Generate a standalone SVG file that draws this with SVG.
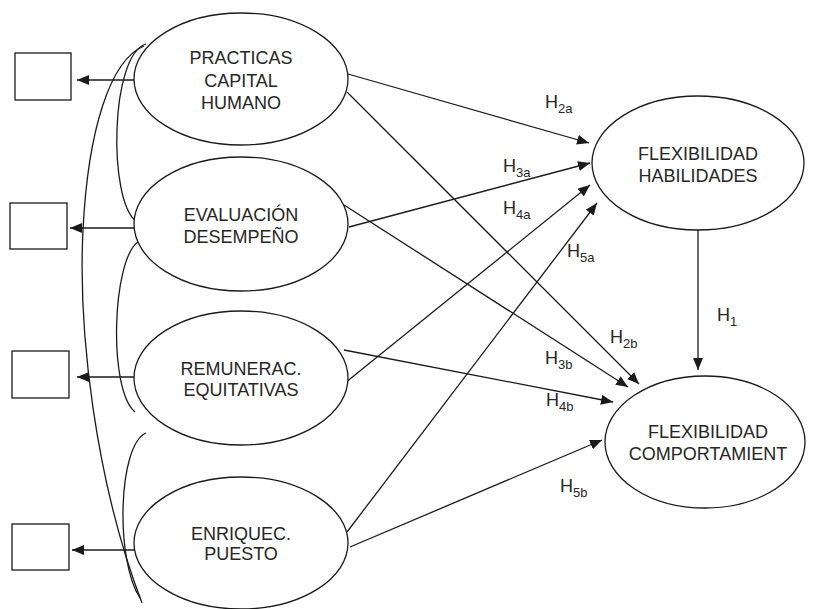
<svg xmlns="http://www.w3.org/2000/svg" width="816" height="609" viewBox="0 0 816 609">
<defs>
<marker id="ah" markerUnits="userSpaceOnUse" markerWidth="12" markerHeight="10" refX="12" refY="5" orient="auto">
<path d="M0,0 L12,5 L0,10 z" fill="#1a1a1a"/>
</marker>
<style>
.n{fill:#fff;stroke:#1a1a1a;stroke-width:1.3}
.t{font-family:"Liberation Sans",Arial,sans-serif;font-size:18px;fill:#262626;text-anchor:middle}
.c{fill:none;stroke:#1a1a1a;stroke-width:1.3}
.a{fill:none;stroke:#1a1a1a;stroke-width:1.3;marker-end:url(#ah)}
.h{font-family:"Liberation Sans",Arial,sans-serif;font-size:18px;fill:#262626}
.s{font-size:13px}
</style>
</defs>
<rect width="816" height="609" fill="#fff"/>
<g id="box1"><rect class="n" x="15" y="53" width="56" height="47"/></g>
<g id="box2"><rect class="n" x="10" y="203" width="57" height="46"/></g>
<g id="box3"><rect class="n" x="12" y="351" width="57" height="47"/></g>
<g id="box4"><rect class="n" x="12" y="524" width="57" height="46"/></g>
<g id="connectors">
<path class="c" d="M146,44 C110,55 108,200 136,221"/>
<path class="c" d="M144,46 C110,60 88,130 83,230 C78,330 95,480 142,603"/>
<path class="c" d="M138,242 C112,260 108,390 135,412"/>
<path class="c" d="M146,433 C118,445 115,560 140,598"/>
<path class="a" d="M135,80 L77,80"/>
<path class="a" d="M135,228 L70,228"/>
<path class="a" d="M135,377 L77,377"/>
<path class="a" d="M135,550 L72,550"/>
<path class="a" d="M348,74 L589,143"/>
<path class="a" d="M347,92 L639,384"/>
<path class="a" d="M349,227 L590,163"/>
<path class="a" d="M344,205 L628,387"/>
<path class="a" d="M345,383 L590,185"/>
<path class="a" d="M344,350 L613,402"/>
<path class="a" d="M347,532 L597,203"/>
<path class="a" d="M350,547 L602,440"/>
<path class="a" d="M698,230 L698,370"/>
</g>
<g id="practicas"><ellipse class="n" cx="241" cy="79" rx="107" ry="66"/>
<text class="t" x="241" y="63.5">PRACTICAS</text><text class="t" x="241" y="86.5">CAPITAL</text><text class="t" x="241" y="108.5">HUMANO</text></g>
<g id="evaluacion"><ellipse class="n" cx="241" cy="224" rx="107" ry="67"/>
<text class="t" x="241" y="220.5">EVALUACIÓN</text><text class="t" x="241" y="242.5">DESEMPEÑO</text></g>
<g id="remunerac"><ellipse class="n" cx="241" cy="378" rx="107" ry="67"/>
<text class="t" x="241" y="374.5">REMUNERAC.</text><text class="t" x="241" y="395.5">EQUITATIVAS</text></g>
<g id="enriquec"><ellipse class="n" cx="241" cy="543" rx="107" ry="66"/>
<text class="t" x="241" y="539.5">ENRIQUEC.</text><text class="t" x="241" y="559.5">PUESTO</text></g>
<g id="habilidades"><ellipse class="n" cx="698" cy="163" rx="106" ry="67"/>
<text class="t" x="698" y="159.5">FLEXIBILIDAD</text><text class="t" x="698" y="181.5">HABILIDADES</text></g>
<g id="comportamiento"><ellipse class="n" cx="705" cy="442" rx="100" ry="66"/>
<text class="t" x="708" y="437.5">FLEXIBILIDAD</text><text class="t" x="708" y="459.5">COMPORTAMIENT</text></g>
<g id="labels">
<text class="h" x="545" y="108">H<tspan class="s" dy="5">2a</tspan></text>
<text class="h" x="503" y="172">H<tspan class="s" dy="5">3a</tspan></text>
<text class="h" x="503" y="214">H<tspan class="s" dy="5">4a</tspan></text>
<text class="h" x="567" y="257">H<tspan class="s" dy="5">5a</tspan></text>
<text class="h" x="717" y="321">H<tspan class="s" dy="5">1</tspan></text>
<text class="h" x="610" y="343">H<tspan class="s" dy="5">2b</tspan></text>
<text class="h" x="545" y="364">H<tspan class="s" dy="5">3b</tspan></text>
<text class="h" x="546" y="406">H<tspan class="s" dy="5">4b</tspan></text>
<text class="h" x="560" y="492">H<tspan class="s" dy="5">5b</tspan></text>
</g>
</svg>
